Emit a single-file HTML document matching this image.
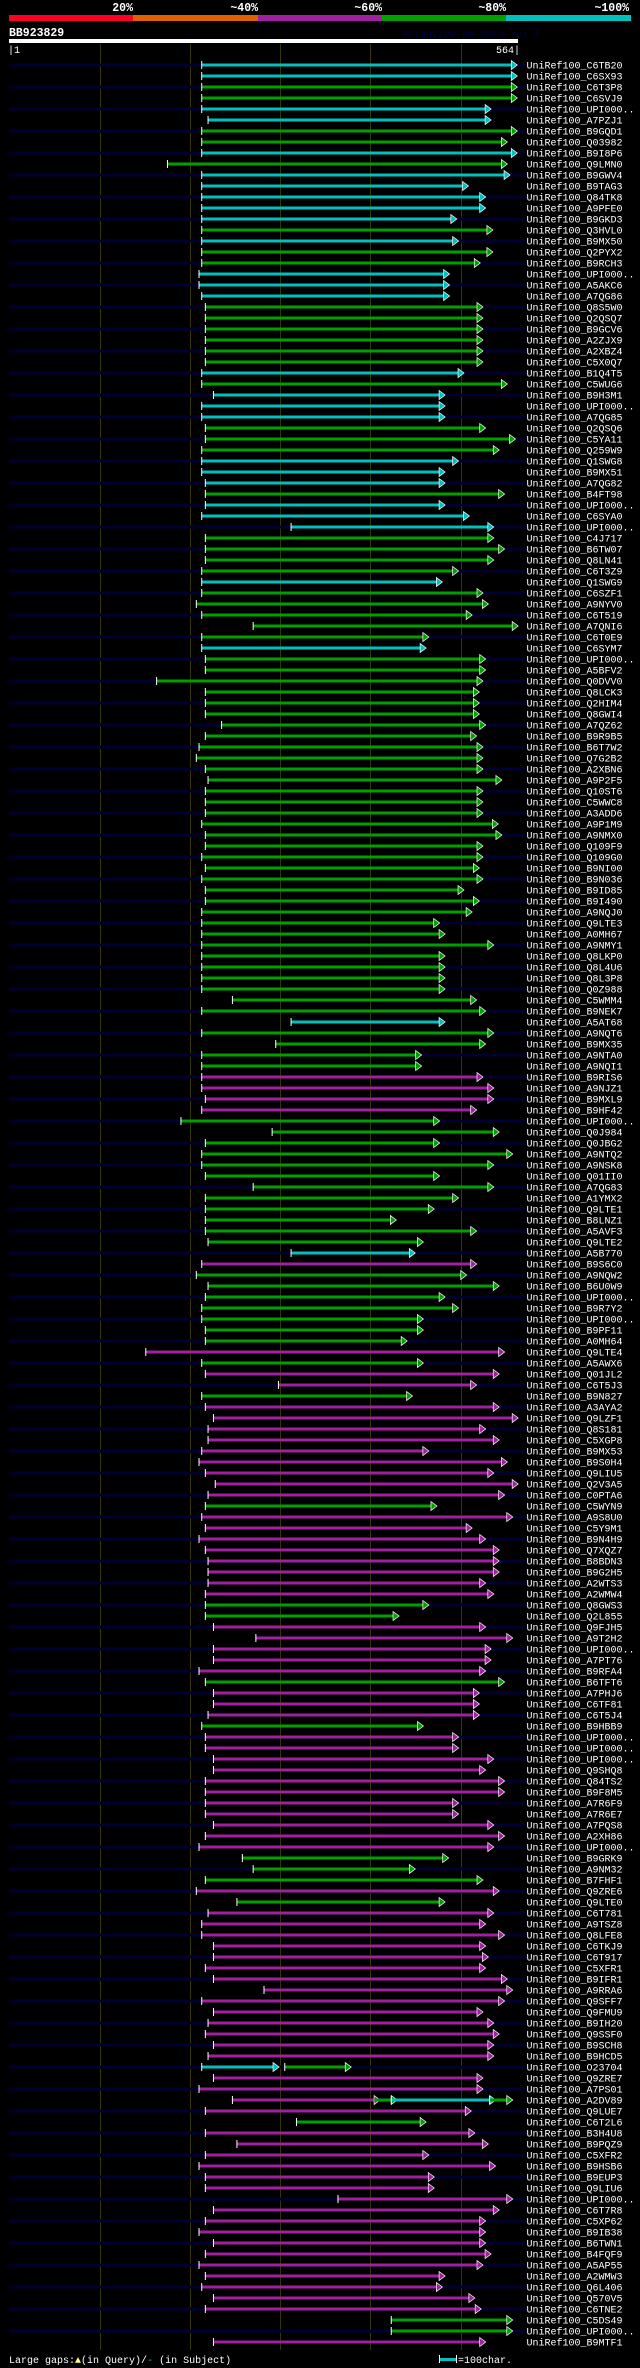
<!DOCTYPE html>
<html><head><meta charset="utf-8"><style>
html,body{margin:0;padding:0;background:#000;}
svg{display:block;}
text{font-family:"Liberation Mono",monospace;}
</style></head><body>
<svg id="chart" width="640" height="2368" viewBox="0 0 640 2368" xmlns="http://www.w3.org/2000/svg">
<rect x="0" y="0" width="640" height="2368" fill="#000"/>
<g>
<rect x="9" y="15" width="124" height="6" fill="#ff0020"/>
<rect x="133" y="15" width="125" height="6" fill="#e06000"/>
<rect x="258" y="15" width="124" height="6" fill="#a020a0"/>
<rect x="382" y="15" width="124" height="6" fill="#00a000"/>
<rect x="506" y="15" width="125" height="6" fill="#00c0c0"/>
<text x="133" y="11" fill="#fff" font-size="11.5" font-weight="bold" text-anchor="end">20%</text>
<text x="258" y="11" fill="#fff" font-size="11.5" font-weight="bold" text-anchor="end">~40%</text>
<text x="382" y="11" fill="#fff" font-size="11.5" font-weight="bold" text-anchor="end">~60%</text>
<text x="506" y="11" fill="#fff" font-size="11.5" font-weight="bold" text-anchor="end">~80%</text>
<text x="629" y="11" fill="#fff" font-size="11.5" font-weight="bold" text-anchor="end">~100%</text>
</g>
<text x="9" y="36" fill="#fff" font-size="11.5" font-weight="bold">BB923829</text>
<text x="402" y="37" fill="#000048" font-size="10">AlignView.pm Beta rel.7</text>
<rect x="9" y="39" width="509" height="4" fill="#fff"/>
<text x="8" y="53" fill="#fff" font-size="10">|1</text>
<text x="520" y="53" fill="#fff" font-size="10" text-anchor="end">564|</text>
<g id="grid"></g>
<g id="stripes"></g>
<g id="rows"></g>
<g>
<text x="9" y="2363" fill="#fff" font-size="10">Large gaps:<tspan fill="#ffff80">▲</tspan>(in Query)/<tspan fill="#00c0c0">-</tspan> (in Subject)</text>
<rect x="439" y="2358" width="17" height="3" fill="#00c0c0"/>
<rect x="439" y="2355" width="1" height="8" fill="#fff"/>
<rect x="456" y="2355" width="1" height="8" fill="#fff"/>
<text x="458" y="2363" fill="#fff" font-size="10">=100char.</text>
</g>
</svg>
<script>
const ids = ["C6TB20","C6SX93","C6T3P8","C6SVJ9","UPI000..","A7PZJ1","B9GQD1","Q03982","B9I8P6","Q9LMN0","B9GWV4","B9TAG3","Q84TK8","A9PFE0","B9GKD3","Q3HVL0","B9MX50","Q2PYX2","B9RCH3","UPI000..","A5AKC6","A7QG86","Q8S5W0","Q2QSQ7","B9GCV6","A2ZJX9","A2XBZ4","C5X0Q7",
"B1Q4T5","C5WUG6","B9H3M1","UPI000..","A7QG85","Q2QSQ6","C5YA11","Q259W9","Q1SWG8","B9MX51","A7QG82","B4FT98","UPI000..","C6SYA0","UPI000..","C4J717","B6TW07","Q8LN41","C6T3Z9","Q1SWG9","C6SZF1","A9NYV0",
"C6T519","A7QNI6","C6T0E9","C6SYM7","UPI000..","A5BFV2","Q0DVV0","Q8LCK3","Q2HIM4","Q8GWI4","A7QZ62","B9R9B5","B6T7W2","Q7G2B2","A2XBN6","A9P2F5","Q10ST6","C5WWC8","A3ADD6","A9P1M9","A9NMX0","Q109F9",
"Q109G0","B9NI00","B9N036","B9ID85","B9I490","A9NQJ0","Q9LTE3","A0MH67","A9NMY1","Q8LKP0","Q8L4U6","Q8L3P8","Q0Z988","C5WMM4","B9NEK7","A5AT68","A9NQT6","B9MX35","A9NTA0","A9NQI1","B9RIS6","A9NJZ1",
"B9MXL9","B9HF42","UPI000..","Q0J984","Q0JBG2","A9NTQ2","A9NSK8","Q01II0","A7QG83","A1YMX2","Q9LTE1","B8LNZ1","A5AVF3","Q9LTE2","A5B770","B9S6C0","A9NQW2","B6U0W9","UPI000..","B9R7Y2","UPI000..","B9PF11",
"A0MH64","Q9LTE4","A5AWX6","Q01JL2","C6T5J3","B9N827","A3AYA2","Q9LZF1","Q8S181","C5XGP8","B9MX53","B9S0H4","Q9LIU5","Q2V3A5","C0PTA6","C5WYN9","A9S8U0","C5Y9M1","B9N4H9","Q7XQZ7","B8BDN3","B9G2H5",
"A2WTS3","A2WMW4","Q8GWS3","Q2L855","Q9FJH5","A9T2H2","UPI000..","A7PT76","B9RFA4","B6TFT6","A7PHJ6","C6TF81","C6T5J4","B9HBB9","UPI000..","UPI000..","UPI000..","Q9SHQ8","Q84TS2","B9F8M5","A7R6F9","A7R6E7",
"A7PQS8","A2XH86","UPI000..","B9GRK9","A9NM32","B7FHF1","Q9ZRE6","Q9LTE0","C6T781","A9TSZ8","Q8LFE8","C6TKJ9","C6T917","C5XFR1","B9IFR1","A9RRA6","Q9SFF7","Q9FMU9","B9IH20","Q9SSF0","B9SCH8","B9HCD5",
"O23704","Q9ZRE7","A7PS01","A2DV89","Q9LUE7","C6T2L6","B3H4U8","B9PQZ9","C5XFR2","B9HSB6","B9EUP3","Q9LIU6","UPI000..","C6T7R8","C5XP62","B9IB38","B6TWN1","B4FQF9","A5AP55","A2WMW3","Q6L406","Q570V5","C6TNE2","C5DS49","UPI000..","B9MTF1"];
const identity = ("ccggccggcg"+"cccccgcggc"+"ccgggggg"+"cgcccgggcc"+"cgcccggggc"+"gg"+"gggc"+"gggggggggggggggggg"+"ggggggggggggggg"+"c"+"gggg"+"mm"+"mm"+"gggggggggggg"+"c"+"m"+"gggggg"+"gmgmmg"+"mmmmmmmmm"+"g"+"mmmmmm"+"mmgg"+"mmmmm"+"g"+"mmm"+"g"+"mmmmmmmm"+"mmmgggmg"+"mmmmmmmmmmmmmm"+"cmmmmg"+"mmmmmmmmmmmmmmmmm"+"ggm").split("");
const starts = [213,213,213,213,213,220,213,213,213,175,213,213,213,213,213,213,213,213,213,210,210,213,217,217,217,217,217,217,
213,213,226,213,213,217,217,213,213,213,217,217,217,213,312,217,217,217,213,213,213,207,
213,270,213,213,217,217,163,217,217,217,235,217,210,207,217,220,217,217,217,213,217,217,
213,217,213,217,217,213,213,213,213,213,213,213,213,247,213,312,213,295,213,213,213,213,
217,213,190,291,217,213,213,217,270,217,217,217,217,220,312,213,207,220,217,213,213,217,
217,151,213,217,298,213,217,226,220,220,213,210,217,228,220,217,213,217,210,217,220,220,
220,217,217,217,226,273,226,226,210,217,226,226,220,213,217,217,226,226,217,217,217,217,
226,217,210,258,270,217,207,252,220,213,213,226,226,217,226,282,213,226,220,217,226,220,
213,226,210,247,217,318,217,252,217,210,217,217,364,226,217,210,226,217,210,217,213,226,217,423,423,226];
const ends = [556,556,556,556,527,527,556,545,556,545,548,502,521,521,489,529,491,529,515,481,481,481,518,518,518,518,518,518,
497,545,476,476,476,521,554,536,491,476,476,542,476,503,530,530,542,530,491,473,518,524,
506,557,458,455,521,521,518,514,514,514,521,511,518,518,518,539,518,518,518,535,539,518,
518,514,518,497,514,506,470,476,530,476,476,476,476,511,521,476,530,521,450,450,518,530,
530,511,470,536,470,551,530,470,530,491,464,422,511,452,443,511,500,536,476,491,452,452,
434,542,452,536,511,440,536,557,521,536,458,545,530,557,542,467,551,506,521,536,536,536,
521,530,458,425,521,551,527,527,521,542,514,514,514,452,491,491,530,521,542,542,491,491,
530,542,530,480,443,518,536,476,530,521,542,521,524,521,545,551,542,518,530,536,530,530,
292,518,518,404,505,455,509,524,458,532,464,464,551,536,521,521,521,527,518,476,473,509,516,551,551,521];
// extra segments: row index, identity, start, end
const extraRows = [182,185,185,185];
const extraIdentity = ["g","g","c","g"];
const extraStarts = [305,404,423,532];
const extraEnds = [372,423,532,551];
const gridTicks = [100,200,300,400,500];

const NS = "http://www.w3.org/2000/svg";
const QLEN = 564, X0 = 9.5, XW = 509, Y0 = 65, ROWH = 11;
const colorMap = {c:"#00c0c0", g:"#00a000", m:"#a020a0"};
function xScale(p){ return X0 + p / QLEN * XW; }
function yRow(i){ return Y0 + i * ROWH; }
function mk(tag, attrs){ const e = document.createElementNS(NS, tag); for (const k in attrs) e.setAttribute(k, attrs[k]); return e; }

const grid = document.getElementById("grid");
gridTicks.forEach(function(t){
  const gx = Math.round(xScale(t)) + 0.5;
  const l = mk("line", {x1:gx, x2:gx, y1:44, y2:2350, stroke:"#363600", "stroke-width":1});
  
  
  grid.appendChild(l);
});

const stripes = document.getElementById("stripes");
const rows = document.getElementById("rows");
function drawSeg(g, s, e, y, col, withTick){
  const xs = xScale(s), xe = xScale(e);
  const r = mk("rect", {x:xs, y:y-1.5, width:Math.max(0, xe-xs), height:3, fill:col});
  
  
  g.appendChild(r);
  if (withTick){
    const t = mk("rect", {x:xs-0.5, y:y-4, width:1, height:8, fill:"#fff"});
    
    
    g.appendChild(t);
  }
  const a = mk("polygon", {points:(xe)+","+(y-4.5)+" "+(xe+6)+","+y+" "+(xe)+","+(y+4.5), fill:col, stroke:"#fff", "stroke-width":0.7});
  
  
  g.appendChild(a);
}
ids.forEach(function(id, i){
  const y = yRow(i);
  if (i % 2 === 0){
    const st = mk("rect", {x:9, y:y-1.5, width:517, height:3, fill:"#000030"});
    
    
    stripes.appendChild(st);
  }
  const g = mk("g", {});
  
  
  drawSeg(g, starts[i], ends[i], y, colorMap[identity[i]], true);
  extraRows.forEach(function(r, k){
    if (r === i) drawSeg(g, extraStarts[k], extraEnds[k], y, colorMap[extraIdentity[k]], extraStarts[k] > ends[i] + 5);
  });
  const t = mk("text", {x:526.5, y:y+3.5, fill:"#fff", "font-size":10});
  
  
  t.textContent = "UniRef100_" + id;
  g.appendChild(t);
  rows.appendChild(g);
});
</script>
</body></html>
